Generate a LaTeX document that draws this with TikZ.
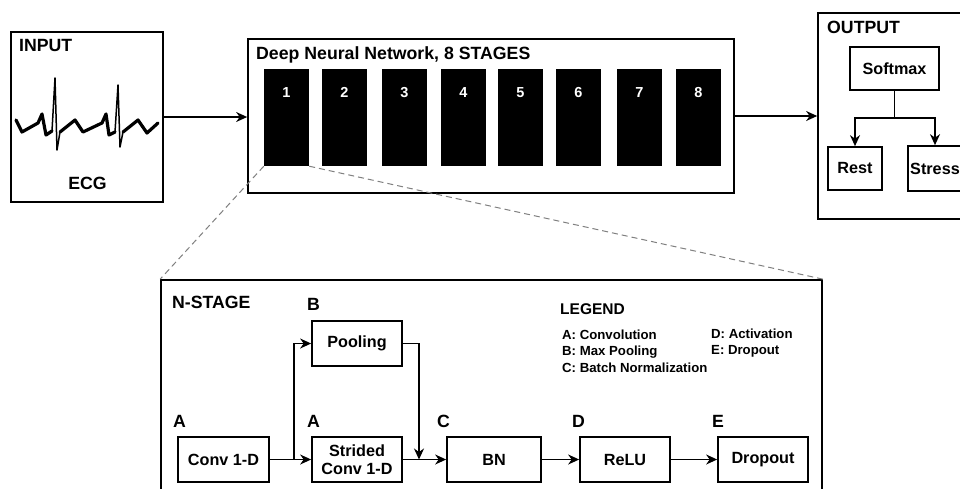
\documentclass[tikz,border=0pt]{standalone}
\usepackage{fontspec}
\setmainfont{Liberation Sans}
\usetikzlibrary{arrows.meta}
\begin{document}
\begin{tikzpicture}[x=1pt,y=-1pt,
  box/.style={draw, line width=1.7pt, inner sep=0pt, align=center, font=\bfseries\fontsize{16.2}{17.5}\selectfont},
  stagebox/.style={fill=black, draw=none, inner sep=0pt, minimum width=45pt, minimum height=97pt},
  num/.style={text=white, anchor=base, inner sep=0pt, font=\bfseries\fontsize{14.5}{16}\selectfont},
  lbl/.style={anchor=base west, inner sep=0pt, font=\bfseries\fontsize{17.7}{19}\selectfont},
  leg/.style={anchor=base west, inner sep=0pt, font=\bfseries\fontsize{13.2}{14}\selectfont},
  arr/.style={-{Stealth[length=11pt,width=10pt,inset=3.5pt]}, line width=1.4pt},
  plain/.style={line width=1.4pt},
  zoomline/.style={draw=gray, dash pattern=on 6pt off 4pt, line width=1pt},
  wave/.style={line width=3.2pt, line join=round, line cap=round},
  spike/.style={line width=1.5pt, line join=round, line cap=round}
]
\clip (0,0) rectangle (960,488);
\fill[white] (0,0) rectangle (960,488);

% ---------- INPUT ----------
\node[box, minimum width=152pt, minimum height=170pt] (inp) at (87,117) {};
\node[lbl] (inptitle) at (19,51) {INPUT};
\node[lbl, anchor=base] (ecg) at (87.5,189) {ECG};
\draw[spike] (16,120) -- (22,132) -- (38,123) -- (42,114) -- (46,135) -- (52,131)
  -- (55,78) -- (57,150) -- (60,132) -- (75,120) -- (83,132) -- (102,123) -- (106,114)
  -- (109,135) -- (115,132) -- (118,85) -- (120,147) -- (123,132) -- (138,120) -- (147,133) -- (158,123);
\draw[wave] (16,120) -- (22,132) -- (38,123) -- (42,114) -- (46,135) -- (52,131);
\draw[wave] (60,132) -- (75,120) -- (83,132) -- (102,123) -- (106,114) -- (109,135) -- (115,132);
\draw[wave] (123,132) -- (138,120) -- (147,133) -- (158,123);

% ---------- DNN ----------
\node[box, minimum width=486pt, minimum height=154pt] (dnn) at (491,116) {};
\node[lbl] (dnntitle) at (256,59) {Deep Neural Network, 8 STAGES};
\foreach \i/\x in {1/286.5,2/344.5,3/404.5,4/463.5,5/520.5,6/578.5,7/639.5,8/698.5}{
  \node[stagebox] (s\i) at (\x,117.5) {};
  \node[num] (n\i) at (\x,97) {\i};
}

% ---------- OUTPUT ----------
\node[box, minimum width=154pt, minimum height=206pt] (out) at (895,116) {};
\node[lbl] (outtitle) at (827,33) {OUTPUT};
\node[box, minimum width=89pt, minimum height=43pt] (soft) at (894.5,68.5) {Softmax};
\node[box, minimum width=54pt, minimum height=43pt] (rest) at (855,168.5) {Rest};
\node[box, minimum width=54pt, minimum height=45pt] (stress) at (935,168.5) {Stress};
\coordinate (split) at (894.5,118);
\draw[plain] (soft.south) -- (split);
\draw[arr] (split) -| (rest.north);
\draw[arr] (split) -| (stress.north);

\draw[arr] (inp.east) -- (inp.east -| dnn.west);
\draw[arr] (dnn.east) -- (out.west);

% ---------- N-STAGE ----------
\node[box, minimum width=661pt, minimum height=230pt] (nst) at (491.5,395) {};
\draw[zoomline] (s1.south west) -- (nst.north west);
\draw[zoomline] (s1.south east) -- (nst.north east);
\node[lbl] (nsttitle) at (172,308) {N-STAGE};

\node[box, minimum width=90pt, minimum height=45pt] (pool) at (357,343.5) {Pooling};
\node[box, minimum width=91pt, minimum height=45pt] (conv) at (223.5,459.5) {Conv 1-D};
\node[box, minimum width=90pt, minimum height=45pt] (strided) at (357,459.5) {Strided\\Conv 1-D};
\node[box, minimum width=94pt, minimum height=45pt] (bn) at (494,459.5) {BN};
\node[box, minimum width=90pt, minimum height=45pt] (relu) at (625,459.5) {ReLU};
\node[box, minimum width=90pt, minimum height=45pt] (drop) at (763,459.5) {Dropout};

\node[lbl] (lb) at (307,310) {B};
\node[lbl] (la1) at (173,427) {A};
\node[lbl] (la2) at (307,427) {A};
\node[lbl] (lc) at (437,427) {C};
\node[lbl] (ld) at (572,427) {D};
\node[lbl] (le) at (712,427) {E};

\node[leg, font=\bfseries\fontsize{15.5}{17}\selectfont] (legt) at (560,314) {LEGEND};
\node[leg] (lega) at (562,339) {A: Convolution};
\node[leg] (legb) at (562,355) {B: Max Pooling};
\node[leg] (legc) at (562,372) {C: Batch Normalization};
\node[leg] (legd) at (711,338) {D: Activation};
\node[leg] (lege) at (711,354) {E: Dropout};

\coordinate (br) at (294,459.5);
\coordinate (mrg) at (419,459.5);
\draw[arr] (conv.east) -- (strided.west);
\draw[arr] (br) |- (pool.west);
\draw[arr] (strided.east) -- (bn.west);
\draw[arr] (pool.east) -| (mrg);
\draw[arr] (bn.east) -- (relu.west);
\draw[arr] (relu.east) -- (drop.west);
\end{tikzpicture}
\end{document}
